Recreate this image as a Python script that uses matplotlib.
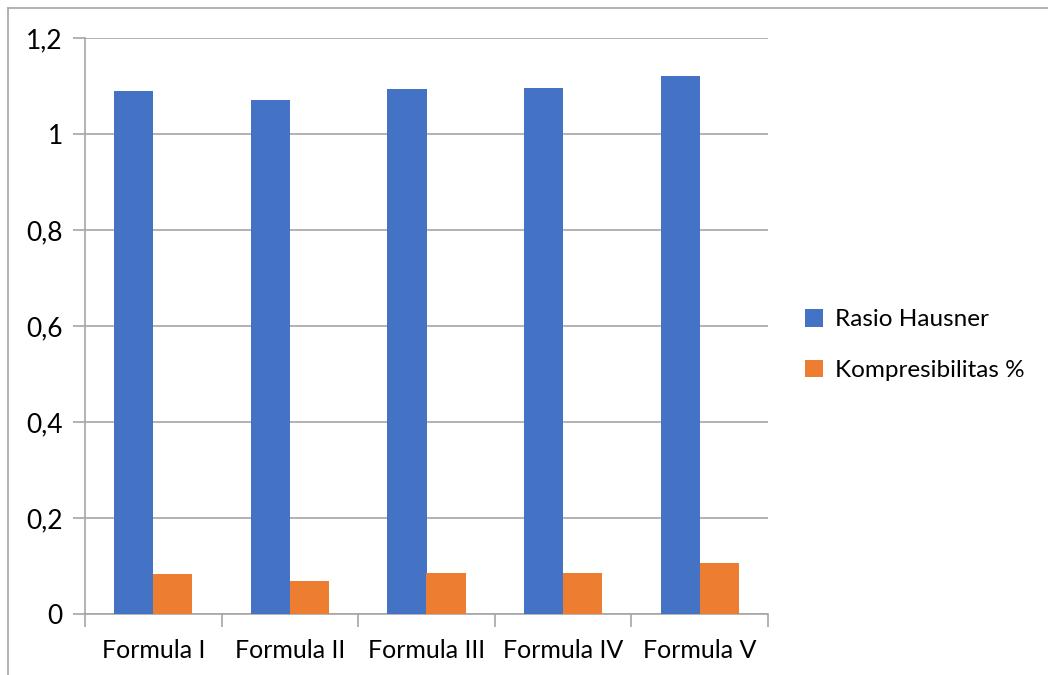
import numpy as np
import matplotlib.pyplot as plt
from matplotlib.ticker import FuncFormatter, FixedLocator
from matplotlib.lines import Line2D

# Data per formula
formulas = ['Formula I', 'Formula II', 'Formula III', 'Formula IV', 'Formula V']
rasio_hausner = [1.09, 1.07, 1.094, 1.096, 1.12]
kompresibilitas = [0.083, 0.069, 0.085, 0.086, 0.106]
series_names = ['Rasio Hausner', 'Kompresibilitas %']
y_ticks = [0, 0.2, 0.4, 0.6, 0.8, 1.0, 1.2]

plt.rcParams['font.family'] = ['Lato', 'DejaVu Sans']

fig = plt.figure(figsize=(10.48, 6.75), dpi=100)
ax = fig.add_axes([85 / 1048, 1 - 614 / 675, (768 - 85) / 1048, (614 - 38) / 675])

x = np.arange(len(formulas))
w = 0.286
ax.bar(x - w / 2, rasio_hausner, w, color='#4472C4', label=series_names[0], zorder=3)
ax.bar(x + w / 2, kompresibilitas, w, color='#ED7D31', label=series_names[1], zorder=3)

ax.set_xlim(-0.5, len(formulas) - 0.5)
ax.set_ylim(0, 1.2)
ax.set_yticks(y_ticks)
ax.yaxis.set_major_formatter(FuncFormatter(lambda v, p: ('%g' % round(v, 1)).replace('.', ',')))
ax.tick_params(axis='y', length=9, width=1.2, color='#A6A6A6', labelsize=19, pad=7)
ax.grid(axis='y', color='#A6A6A6', linewidth=1.2, zorder=0)

# category labels centred, tick marks on category boundaries
ax.set_xticks(x)
ax.set_xticklabels(formulas, fontsize=18)
ax.tick_params(axis='x', length=0, pad=18)
ax.xaxis.set_minor_locator(FixedLocator(np.arange(-0.5, len(formulas), 1.0)))
ax.tick_params(axis='x', which='minor', length=9, width=1.2, color='#A6A6A6')

for side in ['top', 'right']:
    ax.spines[side].set_visible(False)
for side in ['left', 'bottom']:
    ax.spines[side].set_color('#A6A6A6')
    ax.spines[side].set_linewidth(1.2)

handles, labels = ax.get_legend_handles_labels()
leg = fig.legend(handles, labels, loc='center left', bbox_to_anchor=(805 / 1048, 1 - 345 / 675),
                 frameon=False, fontsize=17.5, handlelength=0.75, handleheight=0.75,
                 handletextpad=0.5, labelspacing=1.2, borderpad=0, borderaxespad=0)

# outer chart border
fig.add_artist(Line2D([8 / 1048, 1.0], [1 - 8 / 675, 1 - 8 / 675], color='#A6A6A6', linewidth=1.2))
fig.add_artist(Line2D([8 / 1048, 8 / 1048], [0.0, 1 - 8 / 675], color='#A6A6A6', linewidth=1.2))

fig.savefig('out.png', dpi=100)
